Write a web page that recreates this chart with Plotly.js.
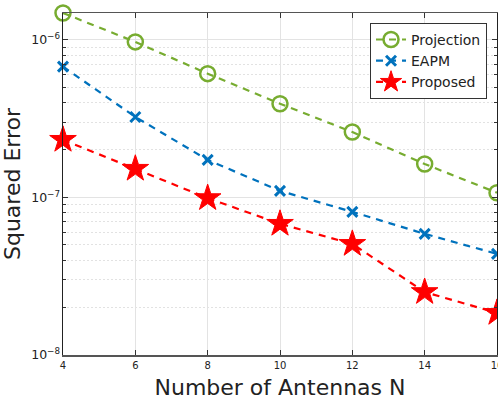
<!DOCTYPE html>
<html><head><meta charset="utf-8">
<script src="https://cdn.plot.ly/plotly-3.0.1.min.js"></script>
<style>html,body{margin:0;padding:0;background:#fff}#c{width:498px;height:403px}</style>
</head><body><div id="c"></div>
<script>
const antennas = [4, 6, 8, 10, 12, 14, 16];
const projection = [1.48e-6, 9.7e-7, 6.1e-7, 3.93e-7, 2.6e-7, 1.63e-7, 1.07e-7];
const eapm = [6.76e-7, 3.24e-7, 1.73e-7, 1.1e-7, 8.1e-8, 5.87e-8, 4.38e-8];
const proposed = [2.32e-7, 1.52e-7, 9.9e-8, 6.8e-8, 5.07e-8, 2.51e-8, 1.85e-8];

const traces = [
  {x: antennas, y: projection, name: 'Projection', mode: 'lines+markers',
   line: {color: '#77AC30', width: 2.2, dash: '7px,6px'},
   marker: {symbol: 'circle-open', size: 15, color: '#77AC30', line: {width: 2.5, color: '#77AC30'}}},
  {x: antennas, y: eapm, name: 'EAPM', mode: 'lines+markers',
   line: {color: '#0072BD', width: 2.2, dash: '7px,6px'},
   marker: {symbol: 'x-thin', size: 10, color: '#0072BD', line: {width: 3, color: '#0072BD'}}},
  {x: antennas, y: proposed, name: 'Proposed', mode: 'lines+markers',
   line: {color: '#FF0000', width: 2.2, dash: '7px,6px'},
   marker: {symbol: 'star', size: 20, color: '#FF0000', line: {width: 1, color: '#FF0000'}}}
];

const tfont = {size: 22, family: 'DejaVu Sans, sans-serif', color: '#222'};
const layout = {
  width: 498, height: 403,
  margin: {l: 63, r: 1, t: 13, b: 48},
  paper_bgcolor: '#fff', plot_bgcolor: '#fff',
  font: {family: 'DejaVu Sans, sans-serif', color: '#222'},
  showlegend: true,
  legend: {x: 0.977, xanchor: 'right', y: 0.971, yanchor: 'top',
    bgcolor: '#fff', bordercolor: '#333', borderwidth: 1,
    font: {size: 14, family: 'DejaVu Sans, sans-serif', color: '#222'},
    tracegroupgap: 0, itemwidth: 30},
  xaxis: {
    range: [4, 16], dtick: 2, tick0: 4,
    ticks: 'inside', ticklen: 5, tickcolor: '#333', mirror: 'ticks',
    showline: true, linecolor: '#555', linewidth: 1.5,
    showgrid: true, gridcolor: '#e3e3e3', gridwidth: 1, zeroline: false,
    ticklabeloverflow: 'allow',
    tickfont: {size: 10, color: '#222'},
    title: {text: 'Number of Antennas N', font: tfont, standoff: 10}
  },
  yaxis: {
    type: 'log', range: [-8, Math.log10(1.48e-6)], dtick: 1,
    exponentformat: 'power',
    ticks: 'inside', ticklen: 5, tickcolor: '#333', mirror: 'ticks',
    showline: true, linecolor: '#222', linewidth: 1,
    showgrid: true, gridcolor: '#e3e3e3', gridwidth: 1, zeroline: false,
    tickfont: {size: 10, color: '#222'},
    minor: {dtick: 'D1', ticks: 'inside', ticklen: 3, tickcolor: '#333', showgrid: true, gridcolor: '#e2e2e2', griddash: '2px,2px', gridwidth: 1},
    title: {text: 'Squared Error', font: tfont, standoff: 12}
  }
};
traces.forEach(t => t.cliponaxis = false);
Plotly.newPlot('c', traces, layout, {displayModeBar: false, staticPlot: true});
</script></body></html>
